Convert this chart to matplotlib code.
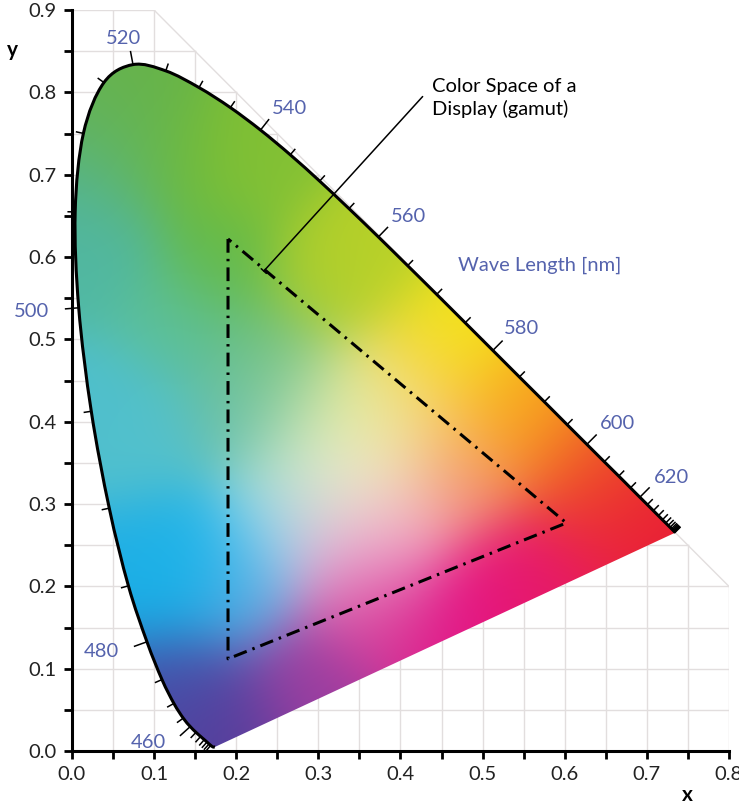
import numpy as np
import matplotlib
matplotlib.use("Agg")
import matplotlib.pyplot as plt
from matplotlib.patches import PathPatch
from matplotlib.path import Path

plt.rcParams['font.family'] = ['Lato', 'DejaVu Sans']

# CIE 1931 2-degree spectral locus, 5 nm steps
wavelengths = np.arange(380, 705, 5)
locus_x = [0.1741, 0.1740, 0.1738, 0.1736, 0.1733, 0.1730, 0.1726, 0.1721,
           0.1714, 0.1703, 0.1689, 0.1669, 0.1644, 0.1611, 0.1566, 0.1510,
           0.1440, 0.1355, 0.1241, 0.1096, 0.0913, 0.0687, 0.0454, 0.0235,
           0.0082, 0.0039, 0.0139, 0.0389, 0.0743, 0.1142, 0.1547, 0.1929,
           0.2296, 0.2658, 0.3016, 0.3373, 0.3731, 0.4087, 0.4441, 0.4788,
           0.5125, 0.5448, 0.5752, 0.6029, 0.6270, 0.6482, 0.6658, 0.6801,
           0.6915, 0.7006, 0.7079, 0.7140, 0.7190, 0.7230, 0.7260, 0.7283,
           0.7300, 0.7311, 0.7320, 0.7327, 0.7334, 0.7340, 0.7344, 0.7346,
           0.7347]
locus_y = [0.0050, 0.0050, 0.0049, 0.0049, 0.0048, 0.0048, 0.0048, 0.0048,
           0.0051, 0.0058, 0.0069, 0.0086, 0.0109, 0.0138, 0.0177, 0.0227,
           0.0297, 0.0399, 0.0578, 0.0868, 0.1327, 0.2007, 0.2950, 0.4127,
           0.5384, 0.6548, 0.7502, 0.8120, 0.8338, 0.8262, 0.8059, 0.7816,
           0.7543, 0.7243, 0.6923, 0.6589, 0.6245, 0.5896, 0.5547, 0.5202,
           0.4866, 0.4544, 0.4242, 0.3965, 0.3725, 0.3514, 0.3340, 0.3197,
           0.3083, 0.2993, 0.2920, 0.2859, 0.2809, 0.2770, 0.2740, 0.2717,
           0.2700, 0.2689, 0.2680, 0.2673, 0.2666, 0.2660, 0.2656, 0.2654,
           0.2653]

labeled_nm = [460, 480, 500, 520, 540, 560, 580, 600, 620]
# label offset from the locus point, in pixels
label_offset = [(-42, -16), (-46, -10), (-47, -4), (-9, 26), (29, 22),
                (30, 20), (29, 22), (31, 21), (32, 20)]

# display gamut triangle
gamut_x = [0.19, 0.19, 0.602]
gamut_y = [0.622, 0.112, 0.277]

# colour samples (x, y -> rgb)
anchor_x = [0.082, 0.040, 0.020, 0.120, 0.243, 0.365, 0.182, 0.122, 0.243,
            0.365, 0.040, 0.082, 0.122, 0.243, 0.330, 0.283, 0.122, 0.162,
            0.283, 0.386, 0.365, 0.203, 0.318, 0.460, 0.520, 0.602, 0.663,
            0.703, 0.642, 0.561, 0.500, 0.359, 0.359, 0.440, 0.400, 0.480,
            0.318, 0.359, 0.010, 0.045, 0.220, 0.360, 0.470, 0.560, 0.650,
            0.720, 0.580, 0.450, 0.300, 0.200, 0.120, 0.075, 0.030, 0.170,
            0.160, 0.090, 0.200, 0.280, 0.420]
anchor_y = [0.815, 0.718, 0.600, 0.720, 0.718, 0.597, 0.597, 0.515, 0.475,
            0.414, 0.394, 0.370, 0.190, 0.268, 0.340, 0.330, 0.086, 0.026,
            0.066, 0.147, 0.228, 0.187, 0.569, 0.508, 0.427, 0.366, 0.305,
            0.272, 0.244, 0.204, 0.183, 0.326, 0.406, 0.386, 0.284, 0.326,
            0.265, 0.183, 0.650, 0.790, 0.740, 0.610, 0.510, 0.420, 0.330,
            0.270, 0.190, 0.140, 0.070, 0.025, 0.060, 0.200, 0.410, 0.008,
            0.230, 0.250, 0.410, 0.420, 0.470]
anchor_rgb = [(104, 180, 68), (92, 180, 115), (80, 185, 165), (108, 186, 62),
              (135, 195, 52), (190, 212, 38), (100, 186, 72), (92, 192, 155),
              (105, 190, 125), (232, 236, 150), (78, 192, 205), (88, 195, 205),
              (10, 183, 238), (140, 214, 242), (242, 246, 215), (180, 225, 200),
              (70, 78, 168), (84, 66, 158), (152, 66, 160), (212, 52, 150),
              (238, 160, 202), (110, 168, 224), (168, 205, 48), (246, 232, 18),
              (250, 178, 28), (242, 118, 38), (236, 58, 44), (234, 28, 50),
              (234, 32, 76), (230, 28, 112), (230, 18, 132), (244, 232, 200),
              (236, 236, 158), (250, 200, 118), (242, 172, 196), (242, 140, 108),
              (232, 192, 226), (222, 86, 166), (82, 180, 155), (100, 178, 88),
              (125, 190, 52), (178, 206, 42), (242, 228, 22), (248, 165, 28),
              (238, 78, 38), (232, 28, 55), (230, 24, 100), (226, 22, 136),
              (158, 58, 160), (98, 62, 160), (66, 84, 172), (30, 172, 228),
              (78, 190, 205), (80, 58, 150), (20, 182, 236), (40, 176, 228),
              (100, 190, 170), (180, 220, 170), (250, 205, 100)]

label_col = "#5563ad"
FS = 14.5

fig = plt.figure(figsize=(7.39, 8.08), dpi=100)
ax = fig.add_axes([0.0974, 0.0705, 0.889, 0.917])
ax.set_xlim(0, 0.8)
ax.set_ylim(0, 0.9)

# ---- grid, clipped to x + y <= 1 ----
grid_col = "#e2dede"
for v in np.arange(0, 0.801, 0.05):
    ax.plot([v, v], [0, min(0.9, 1 - v)], color=grid_col, lw=1, zorder=0)
for v in np.arange(0.05, 0.901, 0.05):
    ax.plot([0, min(0.8, 1 - v)], [v, v], color=grid_col, lw=1, zorder=0)
ax.plot([0.1, 0.8], [0.9, 0.2], color=grid_col, lw=1, zorder=0)

# ---- colour field: smooth kernel blend of the sampled colours ----
gx, gy = np.meshgrid(np.linspace(0, 0.8, 320), np.linspace(0, 0.9, 360))
ax_ = np.array(anchor_x)[:, None, None]
ay_ = np.array(anchor_y)[:, None, None]
d2 = (gx[None] - ax_) ** 2 + (gy[None] - ay_) ** 2
d2 -= d2.min(axis=0, keepdims=True)
w = np.exp(-d2 / (2 * 0.05 ** 2))
w /= w.sum(axis=0, keepdims=True)
field = np.einsum('khw,kc->hwc', w, np.array(anchor_rgb) / 255.0)

# extra softening
sig = 6
k = np.exp(-0.5 * (np.arange(-3 * sig, 3 * sig + 1) / sig) ** 2)
k /= k.sum()
pad = 3 * sig
tmp = np.pad(field, ((pad, pad), (pad, pad), (0, 0)), mode='edge')
tmp = np.apply_along_axis(lambda m: np.convolve(m, k, mode='valid'), 0, tmp)
tmp = np.apply_along_axis(lambda m: np.convolve(m, k, mode='valid'), 1, tmp)
field = np.clip(tmp, 0, 1)

img = ax.imshow(field, extent=[0, 0.8, 0, 0.9], origin='lower',
                interpolation='bilinear', zorder=1, aspect='auto')

# smooth path through the locus points (Catmull-Rom as cubic Bezier)
pts = np.column_stack([locus_x, locus_y])
verts = [pts[0]]
codes = [Path.MOVETO]
for i in range(len(pts) - 1):
    p0 = pts[max(i - 1, 0)]
    p1 = pts[i]
    p2 = pts[i + 1]
    p3 = pts[min(i + 2, len(pts) - 1)]
    verts += [p1 + (p2 - p0) / 6, p2 - (p3 - p1) / 6, p2]
    codes += [Path.CURVE4] * 3
curve = Path(verts, codes)
closed = Path(verts + [pts[0], pts[0]],
              codes + [Path.LINETO, Path.CLOSEPOLY])
clip_patch = PathPatch(closed, transform=ax.transData, facecolor='none',
                       edgecolor='none')
ax.add_patch(clip_patch)
img.set_clip_path(clip_patch)

# ---- spectral locus outline ----
ax.add_patch(PathPatch(curve, facecolor='none', edgecolor='black', lw=2.2,
                       zorder=3, clip_on=False, joinstyle='round'))

# wavelength ticks, perpendicular to the locus, pointing outward
lx = np.array(locus_x)
ly = np.array(locus_y)
for i, wl in enumerate(wavelengths):
    if wl < 430 or wl > 690:
        continue
    tx = lx[i + 1] - lx[i - 1]
    ty = ly[i + 1] - ly[i - 1]
    norm = np.hypot(tx, ty)
    nx, ny = -ty / norm, tx / norm
    L = 0.016 if wl in labeled_nm else 0.0085
    ax.plot([lx[i], lx[i] + nx * L], [ly[i], ly[i] + ny * L],
            color='black', lw=1.1, zorder=3, clip_on=False)

for wl, off in zip(labeled_nm, label_offset):
    i = list(wavelengths).index(wl)
    ax.annotate(str(wl), xy=(lx[i], ly[i]), xytext=off,
                textcoords='offset pixels', ha='center', va='center',
                fontsize=FS, color=label_col, annotation_clip=False)

# ---- gamut triangle ----
ax.plot(gamut_x + gamut_x[:1], gamut_y + gamut_y[:1], color='black', lw=2.2,
        linestyle=(0, (4.5, 2, 0.8, 2)), zorder=4)

ax.text(0.438, 0.793, "Color Space of a\nDisplay (gamut)", ha='left',
        va='center', fontsize=FS, linespacing=1.3, zorder=5)
ax.annotate("", xy=(0.2336, 0.583), xytext=(0.427, 0.795),
            arrowprops=dict(arrowstyle='-[, widthB=0.25, lengthB=0',
                            color='black', lw=1.1, shrinkA=0, shrinkB=0),
            zorder=5)
ax.text(0.47, 0.59, "Wave Length [nm]", ha='left', va='center',
        fontsize=FS, color=label_col, zorder=5)

# ---- axes styling ----
for side in ['top', 'right']:
    ax.spines[side].set_visible(False)
for side in ['left', 'bottom']:
    ax.spines[side].set_linewidth(2.2)
    ax.spines[side].set_zorder(6)
ax.set_xticks(np.arange(0, 0.81, 0.1))
ax.set_xticks(np.arange(0.05, 0.8, 0.1), minor=True)
ax.set_yticks(np.arange(0, 0.91, 0.1))
ax.set_yticks(np.arange(0.05, 0.9, 0.1), minor=True)
ax.set_xticklabels([f"{v:.1f}" for v in np.arange(0, 0.81, 0.1)])
ax.set_yticklabels([f"{v:.1f}" for v in np.arange(0, 0.91, 0.1)])
ax.tick_params(which='both', direction='out', length=6, width=2,
               labelsize=FS, pad=5, colors='#222222')
ax.tick_params(which='both', color='black')

ax.text(-0.073, 0.852, "y", fontsize=15, fontweight='bold', ha='center',
        va='center')
ax.text(0.749, -0.053, "x", fontsize=15, fontweight='bold', ha='center',
        va='center')

fig.savefig("out.png", dpi=100)
